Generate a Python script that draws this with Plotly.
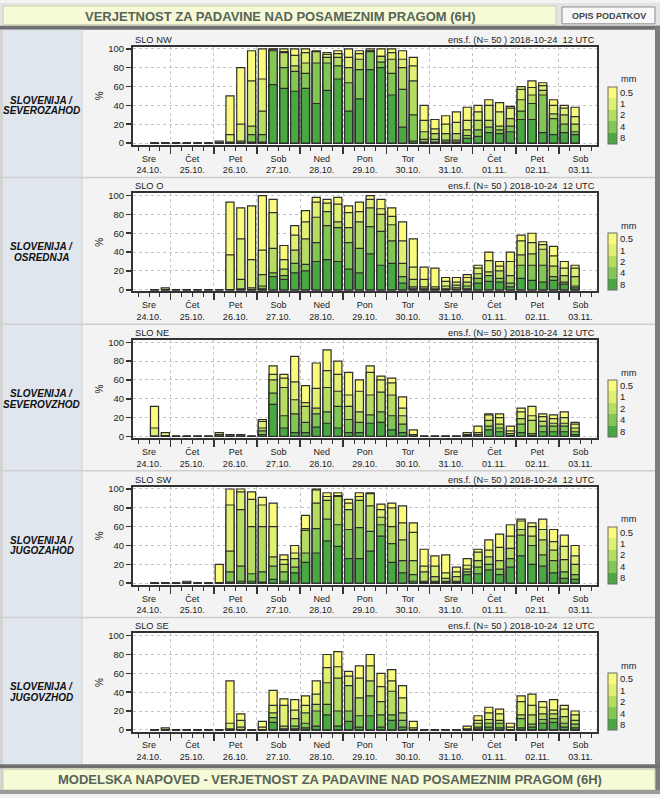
import pandas as pd
import plotly.graph_objects as go

W, H = 660, 798

# ---------------- data ----------------
period_start = pd.date_range("2018-10-24 12:00", periods=40, freq="6h")
bar_center = period_start + pd.Timedelta(hours=3)
day_names = ["Sre", "Čet", "Pet", "Sob", "Ned", "Pon", "Tor", "Sre", "Čet", "Pet", "Sob"]
day_dates = ["24.10.", "25.10.", "26.10.", "27.10.", "28.10.", "29.10.", "30.10.",
             "31.10.", "01.11.", "02.11.", "03.11."]
thresholds = ["0.5", "1", "2", "4", "8"]
region_codes = ["SLO NW", "SLO O", "SLO NE", "SLO SW", "SLO SE"]
region_names = [("SLOVENIJA /", "SEVEROZAHOD"), ("SLOVENIJA /", "OSREDNJA"),
                ("SLOVENIJA /", "SEVEROVZHOD"), ("SLOVENIJA /", "JUGOZAHOD"),
                ("SLOVENIJA /", "JUGOVZHOD")]
run_info = "ens.f. (N= 50 ) 2018-10-24  12 UTC"
page_title = "VERJETNOST ZA PADAVINE NAD POSAMEZNIM PRAGOM (6H)"
footer_title = "MODELSKA NAPOVED - VERJETNOST ZA PADAVINE NAD POSAMEZNIM PRAGOM (6H)"

# probability (%) of 6h precipitation above threshold, per region
nw_p05 = [0, 0, 0, 0, 0, 0, 2, 50, 80, 98, 100, 100, 100, 100, 100, 98, 96, 98, 100, 98,
          100, 100, 100, 98, 91, 40, 25, 29, 33, 38, 40, 46, 43, 39, 60, 66, 64, 46, 40, 38]
nw_p1 = [0, 0, 0, 0, 0, 0, 0, 9, 20, 66, 68, 100, 97, 93, 96, 97, 94, 95, 91, 95,
         98, 92, 96, 89, 82, 24, 15, 20, 22, 24, 33, 40, 33, 37, 57, 59, 61, 40, 37, 28]
nw_p2 = [0, 0, 0, 0, 0, 0, 0, 1, 2, 18, 34, 99, 96, 82, 85, 97, 91, 91, 80, 89,
         98, 92, 89, 80, 66, 12, 10, 10, 10, 14, 24, 24, 18, 26, 46, 51, 56, 31, 30, 20]
nw_p4 = [0, 0, 0, 0, 0, 0, 0, 0, 0, 9, 9, 98, 80, 76, 74, 85, 85, 82, 64, 78,
         97, 86, 74, 57, 30, 4, 4, 3, 3, 8, 14, 17, 14, 18, 34, 42, 51, 26, 20, 12]
nw_p8 = [0, 0, 0, 0, 0, 0, 0, 0, 0, 1, 1, 62, 58, 55, 58, 42, 56, 68, 34, 47,
         78, 80, 51, 17, 2, 1, 1, 1, 1, 5, 7, 11, 10, 12, 25, 25, 11, 9, 11, 9]

o_p05 = [0, 2, 0, 0, 0, 0, 0, 93, 87, 89, 100, 96, 47, 68, 84, 98, 96, 98, 89, 93,
         100, 96, 87, 72, 54, 24, 23, 13, 13, 16, 26, 40, 30, 40, 58, 60, 51, 46, 30, 26]
o_p1 = [0, 0, 0, 0, 0, 0, 0, 37, 54, 32, 42, 82, 32, 58, 72, 93, 92, 91, 82, 83,
        96, 86, 78, 52, 24, 11, 3, 9, 8, 13, 23, 31, 25, 30, 52, 50, 48, 36, 23, 23]
o_p2 = [0, 0, 0, 0, 0, 0, 0, 0, 11, 2, 16, 44, 22, 42, 54, 77, 83, 72, 66, 72,
        87, 80, 69, 28, 11, 3, 1, 4, 5, 8, 17, 19, 20, 15, 37, 38, 43, 25, 15, 14]
o_p4 = [0, 0, 0, 0, 0, 0, 0, 0, 1, 0, 4, 18, 15, 28, 27, 50, 68, 66, 50, 44,
        67, 62, 52, 14, 3, 1, 0, 1, 2, 4, 12, 15, 12, 7, 26, 26, 26, 14, 8, 4]
o_p8 = [0, 0, 0, 0, 0, 0, 0, 0, 0, 0, 1, 14, 11, 18, 20, 30, 32, 30, 22, 18,
        38, 26, 28, 7, 1, 0, 0, 0, 0, 1, 7, 9, 8, 3, 12, 10, 8, 10, 6, 2]

ne_p05 = [32, 4, 0, 0, 0, 0, 4, 2, 2, 0, 18, 75, 66, 85, 54, 78, 92, 80, 68, 60,
          75, 64, 62, 42, 7, 0, 0, 0, 0, 4, 11, 24, 24, 11, 30, 32, 24, 23, 26, 15]
ne_p1 = [9, 1, 0, 0, 0, 0, 2, 0, 0, 0, 16, 66, 62, 58, 36, 51, 70, 66, 44, 48,
         68, 60, 57, 30, 2, 0, 0, 0, 0, 2, 4, 23, 20, 6, 26, 22, 21, 19, 20, 13]
ne_p2 = [0, 0, 0, 0, 0, 0, 0, 0, 0, 0, 9, 60, 52, 39, 32, 30, 52, 48, 32, 26,
         44, 47, 44, 22, 0, 0, 0, 0, 0, 1, 2, 17, 13, 3, 19, 17, 16, 14, 14, 9]
ne_p4 = [0, 0, 0, 0, 0, 0, 0, 0, 0, 0, 6, 46, 22, 24, 15, 24, 26, 32, 18, 15,
         23, 26, 22, 13, 0, 0, 0, 0, 0, 0, 0, 11, 9, 1, 13, 3, 11, 11, 11, 5]
ne_p8 = [0, 0, 0, 0, 0, 0, 0, 0, 0, 0, 2, 34, 9, 4, 4, 10, 14, 9, 4, 4,
         14, 15, 7, 4, 0, 0, 0, 0, 0, 0, 0, 7, 5, 0, 4, 1, 5, 5, 5, 2]

sw_p05 = [0, 0, 0, 2, 0, 0, 20, 100, 100, 97, 91, 85, 30, 40, 72, 100, 96, 96, 89, 96,
          96, 84, 85, 82, 64, 36, 29, 30, 17, 26, 36, 46, 52, 62, 68, 64, 68, 57, 51, 40]
sw_p1 = [0, 0, 0, 0, 0, 0, 0, 83, 97, 89, 83, 60, 25, 32, 58, 99, 92, 93, 85, 92,
         95, 78, 80, 64, 54, 18, 18, 11, 12, 19, 33, 35, 38, 50, 66, 60, 57, 44, 39, 29]
sw_p2 = [0, 0, 0, 0, 0, 0, 0, 34, 78, 60, 60, 28, 20, 26, 56, 85, 88, 92, 78, 88,
         82, 70, 60, 46, 24, 12, 7, 5, 7, 15, 24, 28, 24, 37, 57, 50, 46, 35, 25, 20]
sw_p4 = [0, 0, 0, 0, 0, 0, 0, 12, 18, 10, 12, 18, 12, 17, 32, 58, 68, 62, 57, 59,
         55, 62, 42, 24, 9, 2, 2, 2, 2, 12, 17, 20, 15, 26, 51, 40, 30, 24, 12, 9]
sw_p8 = [0, 0, 0, 0, 0, 0, 0, 1, 2, 2, 1, 4, 2, 11, 22, 32, 45, 39, 26, 26,
         34, 50, 22, 11, 2, 1, 1, 1, 1, 9, 10, 14, 9, 17, 29, 20, 18, 11, 5, 4]

se_p05 = [0, 2, 0, 0, 0, 0, 0, 52, 17, 0, 9, 42, 33, 32, 36, 52, 80, 83, 62, 68,
          80, 60, 64, 47, 9, 0, 0, 0, 0, 4, 15, 24, 22, 7, 36, 38, 30, 32, 26, 20]
se_p1 = [0, 0, 0, 0, 0, 0, 0, 7, 10, 0, 3, 26, 26, 21, 26, 38, 66, 67, 57, 55,
         68, 46, 52, 34, 2, 0, 0, 0, 0, 1, 10, 18, 17, 3, 30, 26, 24, 21, 22, 16]
se_p2 = [0, 0, 0, 0, 0, 0, 0, 1, 3, 0, 0, 18, 4, 12, 18, 27, 50, 55, 47, 34,
         52, 30, 41, 18, 0, 0, 0, 0, 0, 0, 7, 11, 10, 0, 16, 16, 17, 17, 14, 10]
se_p4 = [0, 0, 0, 0, 0, 0, 0, 0, 0, 0, 0, 13, 1, 4, 7, 20, 27, 20, 20, 15,
         36, 16, 16, 10, 0, 0, 0, 0, 0, 0, 3, 7, 7, 0, 12, 6, 11, 12, 7, 6]
se_p8 = [0, 0, 0, 0, 0, 0, 0, 0, 0, 0, 0, 8, 0, 1, 2, 4, 16, 4, 9, 3,
         15, 3, 10, 3, 0, 0, 0, 0, 0, 0, 1, 3, 2, 0, 2, 3, 7, 8, 3, 2]

panel_values = [
    [nw_p05, nw_p1, nw_p2, nw_p4, nw_p8],
    [o_p05, o_p1, o_p2, o_p4, o_p8],
    [ne_p05, ne_p1, ne_p2, ne_p4, ne_p8],
    [sw_p05, sw_p1, sw_p2, sw_p4, sw_p8],
    [se_p05, se_p1, se_p2, se_p4, se_p8],
]

# ---------------- axis ticks (6-hourly, labels at noon, long ticks at midnight) ----------------
six_hourly = pd.date_range("2018-10-24 06:00", "2018-11-03 18:00", freq="6h")
short_ticks = [t for t in six_hourly if t.hour != 0]
midnights = [t for t in six_hourly if t.hour == 0]
label_of_day = {pd.Timestamp("2018-10-24 12:00") + pd.Timedelta(days=i): n + "<br>" + d
                for i, (n, d) in enumerate(zip(day_names, day_dates))}
short_text = [label_of_day.get(t, "") for t in short_ticks]

# ---------------- styling ----------------
th_colors = ["#fafa7c", "#dff073", "#b6dc62", "#82c653", "#4aa843"]
FONT = "Liberation Sans, Arial, sans-serif"
DARK = "#333333"
GRID = "#c4c4c4"
TICK_FS = 9
ANN_FS = 9.3


def px(x):
    return x / W


def py(y):
    return 1 - y / H


ROW = 148
X0, X1 = 133, 597
x_range = ["2018-10-24 03:02", "2018-11-03 21:12"]
y_range = [-1.8, 102.4]
bar_w = 4.5 * 3600 * 1000

fig = go.Figure()
layout = dict(
    width=W, height=H, autosize=False,
    margin=dict(l=0, r=0, t=0, b=0, pad=0),
    paper_bgcolor="#f3f3f3", plot_bgcolor="white",
    barmode="overlay", showlegend=False,
    font=dict(family=FONT, size=10, color="#222"),
)

shapes = []
annotations = []


def rect(x0, y0, x1, y1, fill, line=None, lw=0):
    shapes.append(dict(type="rect", xref="paper", yref="paper",
                       x0=px(x0), x1=px(x1), y0=py(y1), y1=py(y0),
                       fillcolor=fill, line=dict(color=line or fill, width=lw),
                       layer="below"))


def hline(y, x0, x1, color, w=1):
    shapes.append(dict(type="line", xref="paper", yref="paper",
                       x0=px(x0), x1=px(x1), y0=py(y), y1=py(y),
                       line=dict(color=color, width=w), layer="below"))


def text(t, x, y, size=ANN_FS, color="#222", xanchor="center", yanchor="middle"):
    annotations.append(dict(text=t, x=px(x), y=py(y), xref="paper", yref="paper",
                            xanchor=xanchor, yanchor=yanchor, showarrow=False,
                            font=dict(size=size, color=color, family=FONT)))


# page furniture
rect(0, 0, 660, 23, "#e4e4e4")
rect(3, 3, 556, 22, "#f6fad6", "#c8cea6", 1)
rect(562, 4, 655, 21, "#f8f8f8", "#8c8c8c", 1)
rect(0, 23, 660, 27, "#707070")
rect(0, 27, 3, 798, "#d4d4d4")
rect(655, 23, 660, 798, "#7c7c7c")
rect(3, 27, 82, 768, "#dfe6ee")
for k in range(1, 5):
    hline(28 + ROW * k, 3, 655, "#cfcfcf", 1.5)
shapes.append(dict(type="line", xref="paper", yref="paper", x0=px(82), x1=px(82),
                   y0=py(768), y1=py(27), line=dict(color="#cfcfcf", width=1), layer="below"))
rect(0, 768, 660, 772, "#707070")
rect(3, 773, 655, 794, "#f6fad6", "#c8cea6", 1)
rect(0, 794, 660, 798, "#9a9a9a")

text("<b>" + page_title + "</b>", 280, 13.5, size=13, color="#56645a")
text("<b>OPIS PODATKOV</b>", 608.5, 13, size=9, color="#444")
text("<b>" + footer_title + "</b>", 330, 783.5, size=13, color="#56645a")

colorscale = []
for j, c in enumerate(reversed(th_colors)):
    colorscale += [[j / 5, c], [(j + 1) / 5, c]]

for k in range(5):
    top = 44 + ROW * k
    bot = 143 + ROW * k
    sfx = "" if k == 0 else str(k + 1)
    xa, ya = "x" + sfx, "y" + sfx

    # zero baseline marks of each 6h period
    fig.add_trace(go.Bar(x=bar_center, y=[1.3] * len(bar_center), base=-0.65,
                         width=bar_w, marker=dict(color="#3a3a3a", line=dict(width=0)),
                         xaxis=xa, yaxis=ya, hoverinfo="skip"))
    for t in range(5):
        fig.add_trace(go.Bar(
            x=bar_center, y=panel_values[k][t], width=bar_w,
            name=thresholds[t] + " mm",
            marker=dict(color=th_colors[t], line=dict(color="#2e2e2e", width=1.2)),
            xaxis=xa, yaxis=ya))

    # discrete legend (colour bar)
    fig.add_trace(go.Scatter(
        x=[None], y=[None], mode="markers", xaxis=xa, yaxis=ya, hoverinfo="skip",
        marker=dict(color=[0], cmin=0, cmax=5, colorscale=colorscale, showscale=True,
                    colorbar=dict(x=px(608), xanchor="left", y=py(113 + ROW * k),
                                  yanchor="middle", len=57, lenmode="pixels",
                                  thickness=9, thicknessmode="pixels", xpad=0, ypad=0,
                                  outlinewidth=1, outlinecolor="#6a6a6a",
                                  tickvals=[0.5, 1.5, 2.5, 3.5, 4.5],
                                  ticktext=list(reversed(thresholds)),
                                  ticks="", tickfont=dict(size=TICK_FS + 0.5, color="#222"),
                                  bgcolor="rgba(0,0,0,0)"))))

    layout["xaxis" + sfx] = dict(
        domain=[px(X0), px(X1)], anchor=ya, type="date", range=x_range,
        tickmode="array", tickvals=short_ticks, ticktext=short_text,
        ticks="outside", ticklen=4, tickwidth=1, tickcolor=DARK,
        tickfont=dict(size=TICK_FS, color="#222"),
        showgrid=False,
        minor=dict(tickmode="array", tickvals=midnights, ticks="outside", ticklen=7,
                   tickwidth=1.5, tickcolor=DARK, showgrid=True, gridcolor=GRID,
                   griddash="dot", gridwidth=1),
        showline=True, mirror=True, linecolor=DARK, linewidth=2, zeroline=False,
        fixedrange=True)
    layout["yaxis" + sfx] = dict(
        domain=[py(bot), py(top)], anchor=xa, range=y_range,
        tickmode="array", tickvals=[0, 20, 40, 60, 80, 100],
        ticks="outside", ticklen=5, tickwidth=1.5, tickcolor=DARK,
        showgrid=True, gridcolor=GRID, griddash="dot", gridwidth=1,
        showline=True, mirror=True, linecolor=DARK, linewidth=2, zeroline=False,
        title=dict(text="%", font=dict(size=10), standoff=3),
        tickfont=dict(size=TICK_FS + 0.5, color="#222"), fixedrange=True)

    text(region_codes[k], 133, 37 + ROW * k, xanchor="left")
    text(run_info, 597, 37 + ROW * k, xanchor="right")
    text("mm", 619, 77 + ROW * k, xanchor="left")
    for li, line_txt in enumerate(region_names[k]):
        text("<b><i>" + line_txt + "</i></b>", 42, 98 + 10.7 * li + ROW * k,
             size=10, color="#111")

layout["shapes"] = shapes
layout["annotations"] = annotations
fig.update_layout(**layout)

fig.write_html("out.html", include_plotlyjs=True, full_html=True,
               config={"displayModeBar": False, "staticPlot": True},
               post_script="document.body.style.margin='0';document.body.style.overflow='hidden';")
